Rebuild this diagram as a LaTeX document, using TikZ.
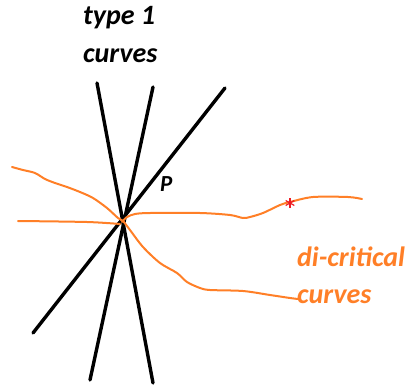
\documentclass[tikz,border=0pt]{standalone}
\usepackage{fontspec}
\setmainfont{Carlito}
\usetikzlibrary{calc}
\definecolor{paintorange}{RGB}{255,127,39}
\definecolor{paintred}{RGB}{237,28,36}
\tikzset{
  blackline/.style={line width=3.4pt, black, line cap=round},
  orangecurve/.style={line width=2pt, paintorange, line join=round, line cap=round},
  lbl/.style={inner sep=0pt, anchor=base west, font=\fontsize{28}{28}\selectfont\bfseries\itshape},
}
\begin{document}
\begin{tikzpicture}[x=1pt,y=-1pt]
\useasboundingbox (0,0) rectangle (413,389);
\coordinate (P) at (122,220);
% type 1 curves (black lines)
\coordinate (l1a) at (97,83);  \coordinate (l1b) at (153,383);
\coordinate (l2a) at (153,87); \coordinate (l2b) at (90,380);
\coordinate (l3a) at (225,88); \coordinate (l3b) at (33,333);
\draw[blackline] (l1a) -- (l1b);
\draw[blackline] (l2a) -- (l2b);
\draw[blackline] (l3a) -- (l3b);
% di-critical curves (orange)
\draw[orangecurve] plot[smooth, tension=0.5] coordinates {(12,167) (23,170) (35,173) (45,179) (55,183) (67,187) (80,192) (93,198) (107,208) (118,218) (123,221) (130,230) (143,247) (160,263) (177,273) (187,282) (200,288) (210,290) (243,291) (270,295) (290,298) (298,299)};
\draw[orangecurve] plot[smooth, tension=0.5] coordinates {(18,221) (87,222) (120,224)};
\draw[orangecurve] plot[smooth, tension=0.5] coordinates {(122,222) (127,217) (135,214) (150,213) (200,213) (230,215) (243,218) (250,217) (263,213) (280,205) (290,202) (313,197) (348,197) (362,199)};
% red star
\coordinate (star) at (290,203);
\foreach \a in {90,30,-30} {
  \draw[paintred, line width=1.2pt] ($(star)+(\a:5)$) -- ($(star)+(\a+180:5)$);
}
% labels
\node[lbl] (t1) at (83,24) {type 1};
\node[lbl] (t2) at (83,62) {curves};
\node[lbl, font=\fontsize{23}{23}\selectfont\bfseries\itshape] (p) at (160,191) {P};
\node[lbl, paintorange] (d1) at (297,266) {di-critical};
\node[lbl, paintorange] (d2) at (297,303) {curves};
\end{tikzpicture}
\end{document}
